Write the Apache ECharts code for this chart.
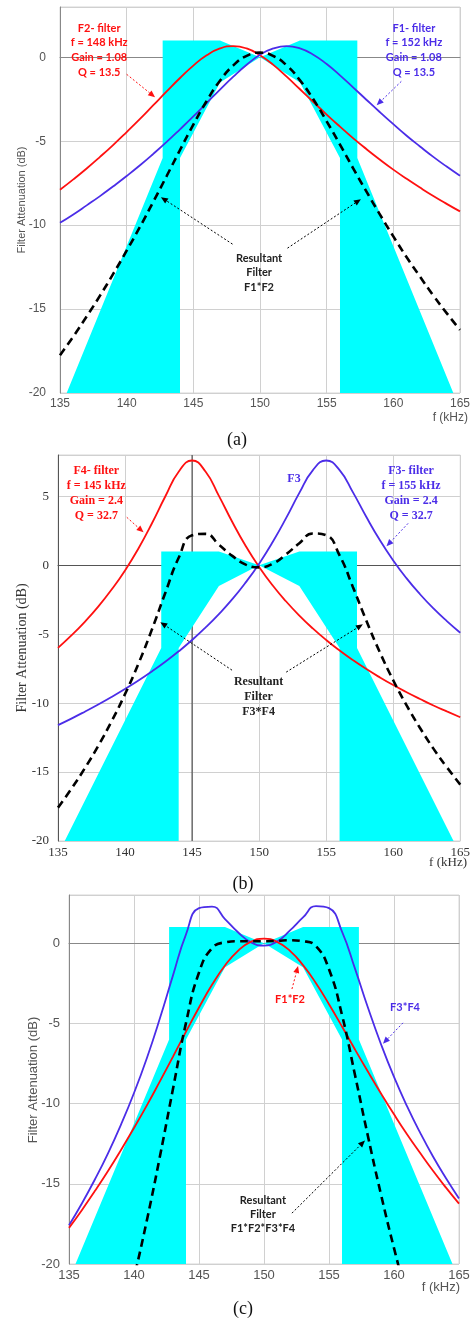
<!DOCTYPE html>
<html><head><meta charset="utf-8">
<script src="https://cdn.jsdelivr.net/npm/echarts/dist/echarts.min.js"></script>
<style>html,body{margin:0;padding:0;background:#fff}#c{width:473px;height:1322px}</style>
</head><body><div id="c"></div>
<script>
// ---------- data ----------
const freq = [135,136,137,138,139,140,141,142,143,144,145,146,147,148,149,150,151,152,153,154,155,156,157,158,159,160,161,162,163,164,165];
const xTicks = [135,140,145,150,155,160,165];
const yTicks = [-20,-15,-10,-5,0,5];
// panel (a)
const f2Filter = [-7.89,-7.27,-6.62,-5.93,-5.21,-4.45,-3.67,-2.85,-2.03,-1.23,-0.49,0.12,0.53,0.67,0.53,0.13,-0.45,-1.15,-1.90,-2.66,-3.41,-4.13,-4.83,-5.48,-6.10,-6.69,-7.24,-7.76,-8.26,-8.73,-9.18];
const f1Filter = [-9.86,-9.36,-8.82,-8.27,-7.68,-7.07,-6.43,-5.75,-5.04,-4.29,-3.52,-2.72,-1.92,-1.15,-0.44,0.15,0.53,0.67,0.53,0.16,-0.40,-1.07,-1.80,-2.54,-3.27,-3.98,-4.67,-5.31,-5.93,-6.51,-7.06];
const f1f2 = [-17.75,-16.63,-15.44,-14.20,-12.89,-11.52,-10.10,-8.60,-7.07,-5.52,-4.01,-2.60,-1.39,-0.48,0.09,0.28,0.08,-0.48,-1.37,-2.50,-3.81,-5.20,-6.63,-8.02,-9.37,-10.67,-11.91,-13.07,-14.19,-15.24,-16.24];
// panel (b)
const f4Filter = [-5.99,-5.09,-4.10,-3.00,-1.76,-0.37,1.22,3.03,4.99,6.79,7.60,6.80,5.04,3.14,1.40,-0.12,-1.45,-2.61,-3.65,-4.58,-5.42,-6.18,-6.88,-7.53,-8.13,-8.69,-9.21,-9.70,-10.17,-10.60,-11.02];
const f3Filter = [-11.59,-11.12,-10.62,-10.10,-9.55,-8.97,-8.36,-7.70,-7.00,-6.24,-5.42,-4.52,-3.54,-2.46,-1.24,0.12,1.67,3.40,5.25,6.89,7.60,6.90,5.29,3.50,1.83,0.35,-0.95,-2.10,-3.13,-4.05,-4.89];
const f3f4 = [-17.58,-16.21,-14.72,-13.10,-11.31,-9.34,-7.14,-4.67,-2.01,0.55,2.18,2.28,1.50,0.68,0.05,-0.15,0.10,0.79,1.60,2.31,2.18,0.72,-1.59,-4.03,-6.30,-8.34,-10.16,-11.80,-13.30,-14.65,-15.91];
const centreLineF = [145,145];
const centreLineDb = [-20,8];
// panel (c)
const f1f2f3f4 = [-35.33,-32.84,-30.16,-27.30,-24.20,-20.86,-17.24,-13.27,-9.08,-4.97,-1.83,-0.32,0.05,0.12,0.12,0.12,0.14,0.18,0.12,-0.19,-1.63,-4.48,-8.22,-12.05,-15.67,-19.01,-22.07,-24.87,-27.49,-29.89,-32.15];
// tolerance mask (cyan), polygon vertices
const maskF  = [135.5,142.7,142.7,147,150,153,157.3,157.3,164.5,156,156,153,150,147,144,144];
const maskDb = [-20,-6,1,1,0,1,1,-6,-20,-20,-6,-1.5,0,-1.5,-6,-20];

// ---------- styling ----------
const RED = '#ff1010', BLUE = '#4b2de8', CYAN = '#00ffff';
const SANS = 'Arial, "Liberation Sans", sans-serif';
const SERIF = '"Liberation Serif", "Times New Roman", serif';
const panels = [
  {grid:{left:60,top:7,width:408,height:386}, yMin:-20, yMax:3, font:SANS, size:12, color:'#555', axis:'#888', nameSize:11, yMargin:14,
   yName:[22,200], xName:[468,418]},
  {grid:{left:58,top:455,width:409,height:386}, yMin:-20, yMax:8, font:SERIF, size:13, color:'#333', axis:'#555', nameSize:14, yMargin:9,
   yName:[22,648], xName:[467,863]},
  {grid:{left:69,top:895,width:390,height:369}, yMin:-20, yMax:3, font:SANS, size:13, color:'#555', axis:'#888', nameSize:13, yMargin:9,
   yName:[33,1080], xName:[460,1287]}
];

const chart = echarts.init(document.getElementById('c'), null, {renderer:'canvas'});

function maskSeries(i){
  return {type:'custom', xAxisIndex:i, yAxisIndex:i, z:2, silent:true, clip:true,
    data: maskF.map((f,k)=>[f, maskDb[k]]), encode:{x:0,y:1},
    renderItem:function(params, api){
      if(params.dataIndex!==0) return null;
      const pts = maskF.map((f,k)=>api.coord([f, maskDb[k]]));
      return {type:'polygon', shape:{points:pts}, style:{fill:CYAN}};
    }};
}
function lineS(i, ys, color, dashed, xs){
  const xv = xs || freq;
  return {type:'line', xAxisIndex:i, yAxisIndex:i, data:xv.map((f,k)=>[f, ys[k]]),
    showSymbol:false, symbol:'none', smooth:!xs, silent:true, clip:true,
    lineStyle:{color:color, width:dashed?2.6:1.8, type:dashed?[8,5]:'solid'}, z:dashed?4:3};
}
const centre = lineS(1, centreLineDb, '#333', false, centreLineF);
centre.lineStyle.width = 1; centre.z = 1;

const option = {
  animation:false,
  grid: panels.map(p=>Object.assign({show:true, borderColor:'#d6d6d6', borderWidth:1}, p.grid)),
  xAxis: panels.map((p,i)=>({type:'value', gridIndex:i, min:135, max:165, interval:5,
    axisLine:{show:true, lineStyle:{color:p.axis}}, axisTick:{show:false},
    splitLine:{show:true, lineStyle:{color:'#d0d0d0'}},
    axisLabel:{color:p.color, fontFamily:p.font, fontSize:p.size, margin:5,
      formatter:v=>xTicks.includes(v)?String(v):''}})),
  yAxis: panels.map((p,i)=>({type:'value', gridIndex:i, min:p.yMin, max:p.yMax, interval:5,
    axisLine:{show:true, lineStyle:{color:p.axis}}, axisTick:{show:false},
    splitLine:{show:true, lineStyle:{color:'#d0d0d0'}},
    axisLabel:{color:p.color, fontFamily:p.font, fontSize:p.size, margin:p.yMargin,
      formatter:v=>yTicks.includes(v)?String(v):''}})),
  series: [
    maskSeries(0),
    lineS(0, f2Filter, RED, false),
    lineS(0, f1Filter, BLUE, false),
    lineS(0, f1f2, '#000', true),
    centre,
    maskSeries(1),
    lineS(1, f4Filter, RED, false),
    lineS(1, f3Filter, BLUE, false),
    lineS(1, f3f4, '#000', true),
    maskSeries(2),
    lineS(2, f3f4, BLUE, false),
    lineS(2, f1f2, RED, false),
    lineS(2, f1f2f3f4, '#000', true)
  ]
};
chart.setOption(option);

// ---------- annotations (positions in data units) ----------
const FA = 'bold 11px Lato, "Open Sans", sans-serif';
const FB = 'bold 12px ' + SERIF;
const notes = [
  {g:0, at:[137.94,0.42], text:'F2- filter\nf = 148 kHz\nGain = 1.08\nQ = 13.5', color:RED, font:FA, lh:14.7},
  {g:0, at:[161.54,0.42], text:'F1- filter\nf = 152 kHz\nGain = 1.08\nQ = 13.5', color:BLUE, font:FA, lh:14.7},
  {g:0, at:[149.93,-12.83], text:'Resultant\nFilter\nF1*F2', color:'#222', font:FA, lh:14.5},
  {g:1, at:[137.86,5.18], text:'F4- filter\nf = 145 kHz\nGain = 2.4\nQ = 32.7', color:RED, font:FB, lh:15},
  {g:1, at:[161.33,5.18], text:'F3- filter\nf = 155 kHz\nGain = 2.4\nQ = 32.7', color:BLUE, font:FB, lh:15},
  {g:1, at:[152.6,6.30], text:'F3', color:BLUE, font:FB, lh:15},
  {g:1, at:[149.96,-9.57], text:'Resultant\nFilter\nF3*F4', color:'#222', font:FB, lh:15},
  {g:2, at:[152.0,-3.48], text:'F1*F2', color:RED, font:FA, lh:14},
  {g:2, at:[160.85,-4.04], text:'F3*F4', color:BLUE, font:FA, lh:14},
  {g:2, at:[149.92,-16.89], text:'Resultant\nFilter\nF1*F2*F3*F4', color:'#222', font:FA, lh:14}
];
const arrows = [
  {g:0, from:[140.0,-1.01], to:[142.13,-2.38], color:RED},
  {g:0, from:[160.6,-1.43], to:[158.75,-2.86], color:BLUE},
  {g:0, from:[147.94,-11.13], to:[142.57,-8.33], color:'#000'},
  {g:0, from:[152.06,-11.37], to:[157.57,-8.45], color:'#000'},
  {g:1, from:[140.13,3.48], to:[141.38,2.39], color:RED},
  {g:1, from:[161.11,3.04], to:[159.5,1.38], color:BLUE},
  {g:1, from:[147.98,-7.61], to:[142.63,-4.13], color:'#000'},
  {g:1, from:[152.02,-7.75], to:[157.74,-4.28], color:'#000'},
  {g:2, from:[152.15,-2.86], to:[152.62,-1.43], color:RED},
  {g:2, from:[160.69,-4.97], to:[159.15,-6.27], color:BLUE},
  {g:2, from:[152.15,-16.83], to:[157.77,-12.30], color:'#000'}
];
const captions = [{text:'(a)', x:237, y:440}, {text:'(b)', x:243, y:884}, {text:'(c)', x:243, y:1309}];

const gfx = [];
notes.forEach(n=>{
  const p = chart.convertToPixel({gridIndex:n.g}, n.at);
  gfx.push({type:'text', x:p[0], y:p[1], z:20, silent:true,
    style:{text:n.text, fill:n.color, font:n.font, textAlign:'center', textVerticalAlign:'middle',
      align:'center', verticalAlign:'middle', lineHeight:n.lh}});
});
arrows.forEach(a=>{
  const s = chart.convertToPixel({gridIndex:a.g}, a.from), e = chart.convertToPixel({gridIndex:a.g}, a.to);
  const dx=e[0]-s[0], dy=e[1]-s[1], L=Math.hypot(dx,dy), ux=dx/L, uy=dy/L;
  const hl=7, hw=3, bx=e[0]-ux*hl, by=e[1]-uy*hl;
  gfx.push({type:'line', z:20, silent:true, shape:{x1:s[0],y1:s[1],x2:bx,y2:by}, style:{stroke:a.color, lineWidth:1, lineDash:[2,2]}});
  gfx.push({type:'polygon', z:20, silent:true, shape:{points:[[e[0],e[1]],[bx-uy*hw,by+ux*hw],[bx+uy*hw,by-ux*hw]]}, style:{fill:a.color}});
});
panels.forEach(p=>{
  gfx.push({type:'text', x:p.xName[0], y:p.xName[1], z:20, silent:true,
    style:{text:'f (kHz)', fill:p.color, font:p.size+'px '+p.font, textAlign:'right', textVerticalAlign:'middle', align:'right', verticalAlign:'middle'}});
  gfx.push({type:'text', x:p.yName[0], y:p.yName[1], rotation:Math.PI/2, z:20, silent:true,
    style:{text:'Filter Attenuation (dB)', fill:p.color, font:p.nameSize+'px '+p.font, textAlign:'center', textVerticalAlign:'middle', align:'center', verticalAlign:'middle'}});
});
captions.forEach(c=>{
  gfx.push({type:'text', x:c.x, y:c.y, z:20, silent:true,
    style:{text:c.text, fill:'#111', font:'18px ' + SERIF, textAlign:'center', textVerticalAlign:'middle', align:'center', verticalAlign:'middle'}});
});
chart.setOption({graphic: gfx});
</script>
</body></html>
